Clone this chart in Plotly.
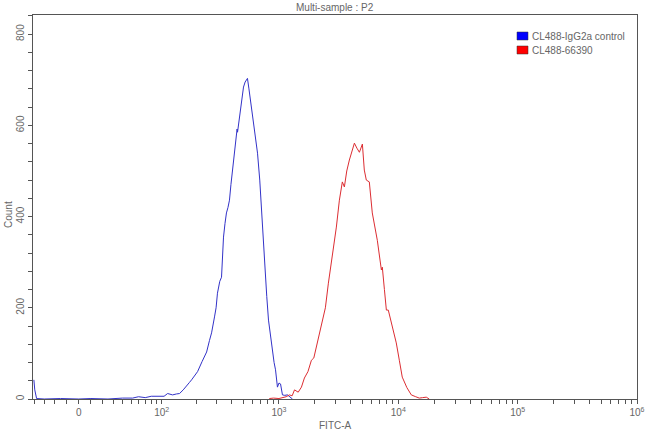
import numpy as np
import plotly.graph_objects as go

# ---- data (FITC-A values, counts) ----
blue_x = [-41, -40, -38, -30, -15, 0, 10, 25, 40, 52, 60, 70, 80, 95, 105, 113, 125, 135,
          144, 155, 166, 175, 183, 195, 206, 225, 246, 260, 271, 287, 296, 304, 318, 329,
          342, 352, 362, 373, 384, 395, 407, 420, 432, 440, 445, 449, 465, 485, 495, 504,
          520, 535, 544, 560, 580, 600, 630, 661, 690, 714, 735, 757, 790, 817, 850, 883,
          910, 936, 955, 971, 1000, 1031, 1070, 1120, 1178, 1240, 1298]
blue_y = [42, 20, 1, 0, 1, 0, 1, 0, 2, 2, 5, 3, 6, 5, 6, 12, 9, 11,
          12, 20, 28, 36, 42, 52, 60, 82, 103, 128, 145, 180, 200, 232, 258, 267,
          355, 385, 408, 420, 436, 470, 502, 540, 570, 583, 592, 585, 615, 640, 665, 684,
          695, 701, 703, 680, 650, 633, 590, 539, 480, 414, 350, 283, 225, 173, 135, 101,
          80, 64, 45, 26, 35, 33, 9, 8, 9, 3, 0]

red_x = [830, 900, 1000, 1070, 1150, 1224, 1290, 1350, 1450, 1543, 1634, 1750, 1871, 1960,
         2062, 2180, 2314, 2450, 2596, 2720, 2858, 3028, 3209, 3398, 3534, 3700, 3891, 4100,
         4288, 4500, 4723, 5002, 5191, 5397, 5718, 6056, 6350, 6672, 7216, 7348, 7650, 7946,
         8245, 8900, 9620, 10200, 10794, 11800, 12852, 14000, 14994, 16000, 17157, 18165]
red_y = [1, 2, 1, 3, 5, 9, 7, 20, 15, 26, 46, 60, 85, 90,
         114, 140, 173, 200, 254, 290, 333, 377, 436, 476, 465, 500, 524, 545,
         561, 550, 541, 559, 502, 480, 476, 408, 380, 348, 283, 289, 240, 195,
         195, 160, 123, 85, 48, 25, 9, 5, 2, 3, 4, 0]

major_vals = [0, 100, 1000, 10000, 100000, 1000000]
major_text = ["0", "10<sup>2</sup>", "10<sup>3</sup>", "10<sup>4</sup>", "10<sup>5</sup>", "10<sup>6</sup>"]
minor_vals = ([-40, -30, -20, -10] + list(range(10, 100, 10)) + list(range(200, 1000, 100))
              + list(range(2000, 10000, 1000)) + list(range(20000, 100000, 10000))
              + list(range(200000, 1000000, 100000)))

series_names = ["CL488-IgG2a control", "CL488-66390"]
series_colors = ["#0000ff", "#ff0000"]
line_colors = ["rgb(50,50,200)", "rgb(220,45,50)"]

W = 42.0
def T(v):
    return np.arcsinh(np.asarray(v, dtype=float) / W) / np.log(10)

fig = go.Figure()
fig.add_trace(go.Scatter(x=T(blue_x), y=blue_y, mode="lines",
                         line=dict(color=line_colors[0], width=1), showlegend=False))
fig.add_trace(go.Scatter(x=T(red_x), y=red_y, mode="lines",
                         line=dict(color=line_colors[1], width=1), showlegend=False))

font = dict(family="Liberation Sans, Arial, sans-serif", size=10, color="#666")
axcol = "#555"

fig.update_layout(
    width=650, height=431,
    margin=dict(l=33, r=13, t=15, b=32),
    paper_bgcolor="white", plot_bgcolor="white",
    font=font, showlegend=False,
    xaxis=dict(range=[float(T(-42)), float(T(1e6))], showgrid=False, zeroline=False,
               showline=True, linecolor=axcol, linewidth=1, mirror=True,
               tickmode="array", tickvals=T(major_vals).tolist(), ticktext=major_text,
               ticks="outside", ticklen=4, tickcolor=axcol,
               minor=dict(tickmode="array", tickvals=T(minor_vals).tolist(),
                          ticks="outside", ticklen=4, tickcolor=axcol),
               automargin=False, tickfont=font),
    yaxis=dict(range=[0, 842], showgrid=False, zeroline=False,
               showline=True, linecolor=axcol, linewidth=1, mirror=True,
               tickmode="linear", tick0=0, dtick=200, tickangle=-90,
               ticks="outside", ticklen=4, tickcolor=axcol,
               minor=dict(dtick=40, ticks="outside", ticklen=4, tickcolor=axcol),
               automargin=False, tickfont=font),
)

# titles
fig.add_annotation(text="Multi-sample : P2", xref="paper", yref="paper", x=0.5, y=(399 - 7) / 384,
                   showarrow=False, font=font, xanchor="center", yanchor="middle")
fig.add_annotation(text="FITC-A", xref="paper", yref="paper", x=0.5, y=(399 - 425) / 384,
                   showarrow=False, font=font, xanchor="center", yanchor="middle")
fig.add_annotation(text="Count", xref="paper", yref="paper", x=(8 - 33) / 604, y=(399 - 214) / 384,
                   showarrow=False, font=font, textangle=-90, xanchor="center", yanchor="middle")

# legend
for i, (name, col) in enumerate(zip(series_names, series_colors)):
    top = 32 + i * 14
    fig.add_shape(type="rect", xref="paper", yref="paper",
                  x0=(517 - 33) / 604, x1=(528 - 33) / 604,
                  y0=(399 - (top + 8)) / 384, y1=(399 - top) / 384,
                  fillcolor=col, line=dict(color="#333", width=0.5))
    fig.add_annotation(text=name, xref="paper", yref="paper", x=(530 - 33) / 604,
                       y=(399 - (top + 4)) / 384, showarrow=False, font=font,
                       xanchor="left", yanchor="middle")

fig.write_html("out.html", config={"displayModeBar": False},
               post_script="document.body.style.margin='0';document.body.style.padding='0';"
                           "document.body.style.overflow='hidden';")
